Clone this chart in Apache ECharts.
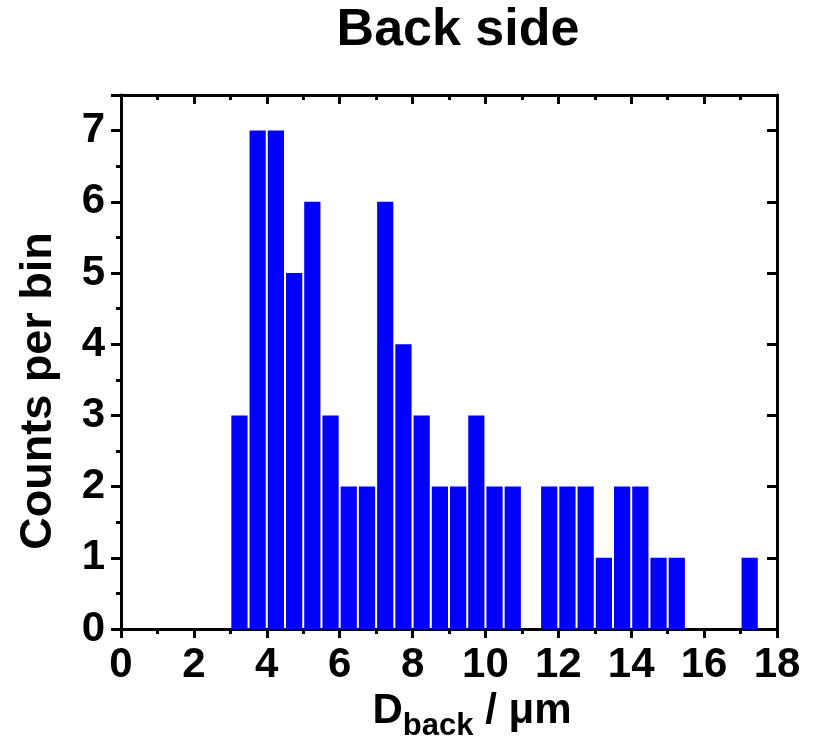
<!DOCTYPE html>
<html>
<head>
<meta charset="utf-8">
<title>Back side</title>
<script src="https://cdn.jsdelivr.net/npm/echarts@6/dist/echarts.min.js"></script>
<style>
  html, body { margin: 0; padding: 0; background: #fff; }
  #chart { width: 817px; height: 741px; }
</style>
</head>
<body>
<div id="chart"></div>
<script>
// histogram bins (left edge, um) and counts per bin
var binWidth = 0.5;
var binLeft = [3.0, 3.5, 4.0, 4.5, 5.0, 5.5, 6.0, 6.5, 7.0, 7.5, 8.0, 8.5, 9.0, 9.5,
               10.0, 10.5, 11.5, 12.0, 12.5, 13.0, 13.5, 14.0, 14.5, 15.0, 17.0];
var counts = [3, 7, 7, 5, 6, 3, 2, 2, 6, 4, 3, 2, 2, 3,
              2, 2, 2, 2, 2, 1, 2, 2, 1, 1, 1];

var xTicks = [0, 2, 4, 6, 8, 10, 12, 14, 16, 18];
var yTicks = [0, 1, 2, 3, 4, 5, 6, 7];

var FONT = 'Liberation Sans, Arial, sans-serif';
var black = '#000';

var histData = binLeft.map(function (x, i) {
    return [x, x + binWidth, counts[i]];
});

function baseAxis(extra) {
    var ax = {
        type: 'value',
        splitLine: {show: false},
        axisLine: {show: true, onZero: false, lineStyle: {color: black, width: 3}},
        axisTick: {show: true, length: 9, lineStyle: {color: black, width: 3}},
        axisLabel: {show: false},
        minorTick: {show: false}
    };
    return Object.assign(ax, extra);
}

var chart = echarts.init(document.getElementById('chart'));
chart.setOption({
    animation: false,
    graphic: [{
        type: 'text',
        x: 458,
        y: 31,
        style: {
            text: 'Back side',
            textAlign: 'center',
            textVerticalAlign: 'middle',
            fontFamily: FONT, fontWeight: 'bold', fontSize: 52, fill: black
        }
    }],
    grid: {left: 121, right: 40, top: 95, bottom: 112, containLabel: false, outerBoundsMode: 'none'},
    xAxis: [
        baseAxis({
            position: 'bottom',
            min: xTicks[0], max: xTicks[xTicks.length - 1], interval: 2,
            minorTick: {show: true, splitNumber: 2, length: 5, lineStyle: {color: black, width: 3}},
            axisLabel: {show: true, margin: 15, color: black, fontFamily: FONT,
                        fontWeight: 'bold', fontSize: 42},
            name: '{n|D}{s|back}{n| / μm}',
            nameLocation: 'middle',
            nameGap: 51,
            nameTextStyle: {
                padding: [0, 0, 0, 46],
                rich: {
                    n: {fontFamily: FONT, fontWeight: 'bold', fontSize: 42, color: black},
                    s: {fontFamily: FONT, fontWeight: 'bold', fontSize: 31, color: black,
                        padding: [30, 0, 0, 0]}
                }
            }
        }),
        baseAxis({
            position: 'top',
            min: xTicks[0], max: xTicks[xTicks.length - 1], interval: 2,
            axisTick: {show: true, inside: true, length: 9, lineStyle: {color: black, width: 3}},
            minorTick: {show: true, splitNumber: 2, length: 5, lineStyle: {color: black, width: 3}}
        })
    ],
    yAxis: [
        baseAxis({
            position: 'left',
            min: 0, max: 7.5, interval: 1,
            axisTick: {show: true, length: 10, lineStyle: {color: black, width: 3}},
            axisLabel: {
                show: true, margin: 16, color: black, fontFamily: FONT,
                fontWeight: 'bold', fontSize: 42,
                formatter: function (v) { return yTicks.indexOf(v) >= 0 ? String(v) : ''; }
            },
            name: 'Counts per bin',
            nameLocation: 'middle',
            nameGap: 60,
            nameTextStyle: {fontFamily: FONT, fontWeight: 'bold', fontSize: 45, color: black,
                            padding: [0, 58, 0, 0]}
        }),
        baseAxis({
            position: 'left',
            min: 0, max: 7.5, interval: 0.5,
            axisLine: {show: false},
            axisTick: {show: true, length: 5, lineStyle: {color: black, width: 3}}
        }),
        baseAxis({
            position: 'right',
            min: 0, max: 7.5, interval: 1,
            axisTick: {show: true, inside: true, length: 10, lineStyle: {color: black, width: 3}}
        }),
        baseAxis({
            position: 'right',
            min: 0, max: 7.5, interval: 0.5,
            axisLine: {show: false},
            axisTick: {show: true, inside: true, length: 5, lineStyle: {color: black, width: 3}}
        })
    ],
    series: [{
        type: 'custom',
        xAxisIndex: 0,
        yAxisIndex: 0,
        data: histData,
        renderItem: function (params, api) {
            var p0 = api.coord([api.value(0), api.value(2)]);
            var p1 = api.coord([api.value(1), 0]);
            return {
                type: 'rect',
                shape: {x: p0[0] + 1, y: p0[1], width: p1[0] - p0[0] - 2, height: p1[1] - p0[1]},
                style: {fill: '#0000ff', stroke: null}
            };
        }
    }]
});
</script>
</body>
</html>
